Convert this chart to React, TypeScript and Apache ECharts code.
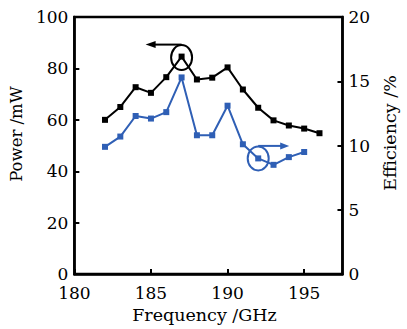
import React, { useEffect, useRef } from "react";
import * as echarts from "echarts";

const frequency = [182, 183, 184, 185, 186, 187, 188, 189, 190, 191, 192, 193, 194, 195, 196];
const powerValues = [60, 65, 72.7, 70.5, 76.6, 84.6, 75.7, 76.4, 80.4, 71.8, 64.7, 59.8, 57.8, 56.6, 54.8];
const efficiencyFreq = [182, 183, 184, 185, 186, 187, 188, 189, 190, 191, 192, 193, 194, 195];
const efficiencyValues = [9.9, 10.7, 12.3, 12.1, 12.6, 15.3, 10.8, 10.8, 13.1, 10.1, 9.0, 8.5, 9.1, 9.5];
const xTicks = [180, 185, 190, 195];

const FONT = "DejaVu Serif";
const BLUE = "#2f5fb5";

export default function App() {
  const ref = useRef<HTMLDivElement>(null);
  useEffect(() => {
    if (!ref.current) return;
    const chart = echarts.init(ref.current, null, { renderer: "svg" });
    const axisLine = { show: true, lineStyle: { color: "#000", width: 2.5 } };
    const axisLabel = { color: "#000", fontFamily: FONT, fontSize: 17 };
    const tick = { show: true, inside: true, length: 5, lineStyle: { color: "#000", width: 2 } };
    chart.setOption({
      animation: false,
      backgroundColor: "#fff",
      grid: { left: 57, top: 17, right: 55, bottom: 53, show: true, borderColor: "#000", borderWidth: 2.5, backgroundColor: "transparent" },
      xAxis: {
        type: "value",
        min: 180,
        max: 197.5,
        interval: 5,
        name: "Frequency /GHz",
        nameLocation: "middle",
        nameGap: 28,
        nameTextStyle: { color: "#000", fontFamily: FONT, fontSize: 17.5, padding: [0, 8, 0, 0] },
        axisLine,
        axisTick: tick,
        axisLabel: { ...axisLabel, margin: 10, lineHeight: 17, showMaxLabel: false, formatter: (v: number) => (xTicks.includes(v) ? String(v) : "") },
        splitLine: { show: false },
      },
      yAxis: [
        {
          type: "value",
          min: 0,
          max: 100,
          interval: 20,
          name: "Power /mW",
          nameLocation: "middle",
          nameGap: 32,
          nameTextStyle: { color: "#000", fontFamily: FONT, fontSize: 16.5, padding: [0, 0, 0, 23] },
          axisLine,
          axisTick: tick,
          axisLabel: { ...axisLabel, margin: 6, lineHeight: 16, padding: [0, 0, 3, 0] },
          splitLine: { show: false },
        },
        {
          type: "value",
          min: 0,
          max: 20,
          interval: 5,
          position: "right",
          name: "Efficiency /%",
          nameLocation: "middle",
          nameGap: 26,
          nameTextStyle: { color: "#000", fontFamily: FONT, fontSize: 17.5, padding: [0, 0, 0, 25] },
          axisLine,
          axisTick: tick,
          axisLabel: { ...axisLabel, margin: 6 },
          splitLine: { show: false },
        },
      ],
      series: [
        {
          type: "line",
          name: "Power",
          data: frequency.map((f, i) => [f, powerValues[i]]),
          yAxisIndex: 0,
          symbol: "rect",
          symbolSize: 6,
          lineStyle: { color: "#000", width: 2 },
          itemStyle: { color: "#000" },
        },
        {
          type: "line",
          name: "Efficiency",
          data: efficiencyFreq.map((f, i) => [f, efficiencyValues[i]]),
          yAxisIndex: 1,
          symbol: "rect",
          symbolSize: 6,
          lineStyle: { color: BLUE, width: 2 },
          itemStyle: { color: BLUE },
        },
      ],
    });

    const [bx, by] = chart.convertToPixel({ xAxisIndex: 0, yAxisIndex: 0 }, [187, 84.6]) as number[];
    const [ex, ey] = chart.convertToPixel({ xAxisIndex: 0, yAxisIndex: 1 }, [192, 9.0]) as number[];
    const by0 = by - 12;
    const ey0 = ey - 12.5;
    chart.setOption({
      graphic: [
        { type: "ellipse", shape: { cx: bx, cy: by + 1, rx: 10.5, ry: 12.5 }, style: { fill: "none", stroke: "#000", lineWidth: 2 }, z: 10 },
        { type: "line", shape: { x1: bx, y1: by0, x2: bx - 27, y2: by0 }, style: { stroke: "#000", lineWidth: 2 }, z: 10 },
        { type: "polygon", shape: { points: [[bx - 36, by0], [bx - 26, by0 - 3.5], [bx - 26, by0 + 3.5]] }, style: { fill: "#000" }, z: 10 },
        { type: "ellipse", shape: { cx: ex, cy: ey, rx: 10.5, ry: 12 }, style: { fill: "none", stroke: BLUE, lineWidth: 2 }, z: 10 },
        { type: "line", shape: { x1: ex, y1: ey0, x2: ex + 23, y2: ey0 }, style: { stroke: BLUE, lineWidth: 2 }, z: 10 },
        { type: "polygon", shape: { points: [[ex + 31, ey0], [ex + 22, ey0 - 3.5], [ex + 22, ey0 + 3.5]] }, style: { fill: BLUE }, z: 10 },
      ],
    });
    return () => chart.dispose();
  }, []);
  return <div ref={ref} style={{ position: "fixed", left: 0, top: 0, width: 407, height: 329 }} />;
}
